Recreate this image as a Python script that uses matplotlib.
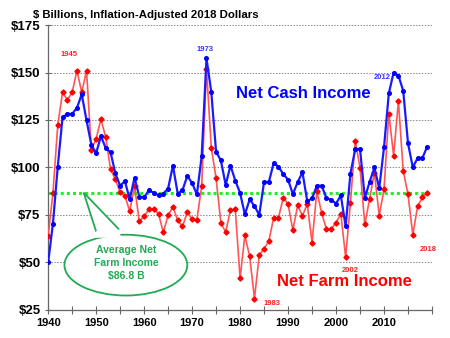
import matplotlib
matplotlib.use("Agg")
import matplotlib.pyplot as plt
from matplotlib.patches import Ellipse, Polygon

plt.rcParams["font.family"] = ["Liberation Sans", "DejaVu Sans"]

years = list(range(1940, 2020))

net_cash = [50, 70.5, 100.4, 126.4, 128.2, 128.2, 131.4, 138.5, 124.8, 112,
            107.5, 116.5, 110.2, 108, 97, 90.4, 92.8, 83.2, 94.6, 84.6,
            84.3, 88, 86.7, 85.3, 86.3, 88.9, 101, 86.3, 88, 95.6,
            91.8, 85.8, 106, 157.5, 139.7, 108.2, 103.7, 90.8, 101, 93.1,
            86.6, 75.3, 83.2, 79.7, 75, 92.4, 92.4, 102.3, 100.5, 96.5,
            93.6, 86, 92.2, 97.5, 82.3, 83.7, 90.4, 90.4, 83.8, 83,
            81, 85.3, 69, 96.8, 109.6, 109.8, 84, 92.4, 100, 89,
            110.6, 139, 150, 148.4, 140.4, 112.8, 100, 105, 105, 111]

net_farm = [63.7, 86.7, 122.2, 139.5, 135.6, 139.5, 151, 139.5, 151, 109.4,
            115, 125.5, 115.8, 99.1, 93.8, 87, 85, 77, 90.2, 71.6,
            74.3, 78, 78, 75.7, 65.8, 74.8, 79.3, 72.2, 69, 76.4,
            72.9, 72.5, 90.2, 152, 110.5, 94.3, 70.9, 66, 77.7, 78,
            41.7, 64.2, 53.3, 31, 53.9, 57.3, 61.3, 73.5, 73.5, 84,
            80.8, 67, 80, 74.6, 80.7, 60.5, 87.5, 76, 67.6, 67.6,
            71, 75.6, 52.8, 81.4, 114.2, 99.8, 70, 83.5, 97.3, 74.7,
            88.5, 128.4, 106.3, 135, 98.2, 85.8, 64.5, 79.6, 84.2, 86.8]

average_farm = 86.8

y_ticks = [25, 50, 75, 100, 125, 150, 175]
x_major = [1940, 1950, 1960, 1970, 1980, 1990, 2000, 2010]

# year labels beside the peaks and troughs
note_text = ["1945", "1973", "2012", "1983", "2002", "2018"]
note_series = ["farm", "cash", "cash", "farm", "farm", "farm"]

fig = plt.figure(figsize=(4.5, 3.38), dpi=100)
ax = fig.add_axes([0.107, 0.083, 0.853, 0.843])

for v in y_ticks[1:]:
    ax.axhline(v, color="#888888", linestyle=(0, (1.5, 1.5)), linewidth=0.7, zorder=1)

ax.plot(years, [average_farm] * len(years), color="#22ee22", linestyle=(0, (1, 1)),
        linewidth=2.2, zorder=2)
ax.plot(years, net_farm, color="#ff5555", linewidth=1.2, marker="D", markersize=2.6,
        markerfacecolor="#ff0000", markeredgecolor="#ff0000", zorder=3)
ax.plot(years, net_cash, color="#1a1aff", linewidth=1.6, marker="o", markersize=2.6,
        markerfacecolor="#0000ff", markeredgecolor="#0000ff", zorder=4)

ax.set_xlim(1940, 2020)
ax.set_ylim(25, 175)
ax.set_yticks(y_ticks)
ax.set_yticklabels(["$%d" % v for v in y_ticks], fontsize=9.5, fontweight="bold")
ax.set_xticks(range(1945, 2021, 10), minor=True)
ax.set_xticks(x_major + [2020])
ax.set_xticklabels([str(y) for y in x_major] + [""], fontsize=8, fontweight="bold")
ax.tick_params(axis="x", which="both", direction="inout", length=6, width=0.8,
               color="#666666", pad=3)
ax.tick_params(axis="y", direction="inout", length=5, width=0.8, color="#666666", pad=3)
for s in ["top", "right"]:
    ax.spines[s].set_visible(False)
for s in ["left", "bottom"]:
    ax.spines[s].set_color("#666666")
    ax.spines[s].set_linewidth(0.9)

fig.text(0.073, 0.955, "$ Billions, Inflation-Adjusted 2018 Dollars", fontsize=8.2,
         fontweight="bold", ha="left", va="center")

ax.text(1979.2, 139, "Net Cash Income", color="#0000ff", fontsize=12,
        fontweight="bold", ha="left", va="center")
ax.text(1987.6, 40, "Net Farm Income", color="#ff0000", fontsize=12,
        fontweight="bold", ha="left", va="center")

note_pos = [(1944.4, 159.4, "center"), (1972.6, 162, "center"),
            (2009.7, 147.5, "center"), (1984.9, 28.2, "left"),
            (2002.9, 45.9, "center"), (2019.3, 56.9, "center")]
for text, series, (x, y, ha) in zip(note_text, note_series, note_pos):
    col = "#ff2222" if series == "farm" else "#3333ff"
    ax.text(x, y, text, color=col, fontsize=5.5, fontweight="bold", ha=ha, va="center")

# callout bubble for the average
green = "#22aa55"
ell = Ellipse((1956.2, 48.6), 25.6, 32, facecolor="white", edgecolor=green,
              linewidth=1.3, zorder=6)
ax.add_patch(ell)
ptr = Polygon([(1950.0, 66.3), (1947.4, average_farm), (1954.8, 67.3)], closed=False,
              facecolor="white", edgecolor=green, linewidth=1.3, zorder=5)
ax.add_patch(ptr)
ax.add_patch(Polygon([(1949.6, 63.0), (1950.0, 66.3), (1954.8, 67.3), (1955.2, 63.0)],
                     facecolor="white", edgecolor="none", zorder=7))
ax.text(1956.2, 49.6, "Average Net\nFarm Income\n$86.8 B", color=green, fontsize=7.5,
        fontweight="bold", ha="center", va="center", linespacing=1.35, zorder=8)

fig.savefig("out.png", dpi=100)
